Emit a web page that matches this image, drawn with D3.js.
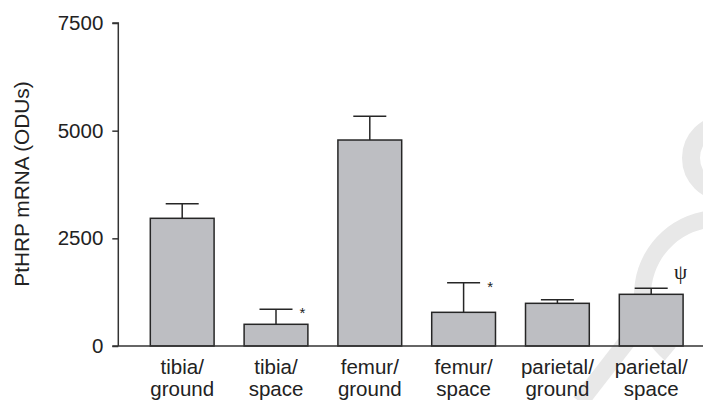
<!DOCTYPE html>
<html>
<head>
<meta charset="utf-8">
<script src="https://cdn.jsdelivr.net/npm/d3@7/dist/d3.min.js"></script>
<style>
  html, body { margin: 0; padding: 0; background: #fff; }
  svg { display: block; }
  text { font-family: "Liberation Sans", Arial, sans-serif; fill: #222; }
</style>
</head>
<body>
<svg id="chart" width="703" height="400"></svg>
<script>
// ---- data ----
const categoryLine1 = ["tibia/", "tibia/", "femur/", "femur/", "parietal/", "parietal/"];
const categoryLine2 = ["ground", "space", "ground", "space", "ground", "space"];
const means = [2965, 504, 4783, 782, 991, 1200];
const errors = [339, 348, 550, 688, 84, 140];
const markers = ["", "*", "", "*", "", "\u03C8"];
const yTicks = [0, 2500, 5000, 7500];
const yTitle = "PtHRP mRNA (ODUs)";

const svg = d3.select("#chart");
const W = 703, H = 400;
const axisX = 118.3, baseY = 346, topY = 23;
const FS = "20.5px";

// faint watermark behind the chart
const wm = svg.append("g").attr("fill", "none").attr("stroke", "#e8e8e8");
wm.append("circle").attr("cx", 725).attr("cy", 158).attr("r", 34).attr("stroke-width", 18);
wm.append("path")
  .attr("transform", "translate(719,295)")
  .attr("d", d3.arc()({innerRadius: 68, outerRadius: 85, startAngle: -2.45, endAngle: 0.3}))
  .attr("fill", "#e8e8e8").attr("stroke", "none");
wm.append("path").attr("d", "M642,322 L580,402").attr("stroke-width", 17);

const x = d3.scaleBand()
  .domain(d3.range(means.length))
  .range([135.3, 698.1])
  .paddingInner(0.32)
  .paddingOuter(0.16);

const y = d3.scaleLinear().domain([0, 7500]).range([baseY, topY]);

// bars
const g = svg.append("g");
g.selectAll("rect.bar")
  .data(means)
  .join("rect")
  .attr("class", "bar")
  .attr("x", (d, i) => x(i))
  .attr("y", d => y(d))
  .attr("width", x.bandwidth())
  .attr("height", d => y(0) - y(d))
  .attr("fill", "#bdbec2")
  .attr("stroke", "#262626")
  .attr("stroke-width", 1.5);

// error bars (upper only)
const capW = 33;
const eb = g.selectAll("g.err").data(means).join("g").attr("class", "err")
  .attr("stroke", "#262626").attr("stroke-width", 1.5);
eb.append("line")
  .attr("x1", (d, i) => x(i) + x.bandwidth() / 2)
  .attr("x2", (d, i) => x(i) + x.bandwidth() / 2)
  .attr("y1", d => y(d))
  .attr("y2", (d, i) => y(d + errors[i]));
eb.append("line")
  .attr("x1", (d, i) => x(i) + x.bandwidth() / 2 - capW / 2)
  .attr("x2", (d, i) => x(i) + x.bandwidth() / 2 + capW / 2)
  .attr("y1", (d, i) => y(d + errors[i]))
  .attr("y2", (d, i) => y(d + errors[i]));

// significance markers
g.selectAll("text.mark")
  .data(markers)
  .join("text")
  .attr("class", "mark")
  .attr("x", (d, i) => x(i) + x.bandwidth() / 2 + capW / 2 + (d === "*" ? 10 : 13))
  .attr("y", (d, i) => y(means[i] + errors[i]) + (d === "*" ? 9 : -9))
  .attr("text-anchor", "middle")
  .style("fill", "#222")
  .style("font-family", (d) => d === "*" ? "Liberation Sans, Arial, sans-serif" : "Liberation Serif, serif")
  .style("font-size", (d) => d === "*" ? "15px" : "21px")
  .text(d => d);

// y axis
const yAxis = d3.axisLeft(y).tickValues(yTicks).tickSize(6).tickPadding(9).tickFormat(d3.format("d"));
const ya = svg.append("g").attr("transform", `translate(${axisX},0)`).call(yAxis);
ya.select(".domain").attr("stroke", "#333").attr("stroke-width", 1.5).attr("d", `M-6,${topY}H0V${baseY}`);
ya.selectAll(".tick line").attr("stroke", "#333").attr("stroke-width", 1.5);
ya.selectAll(".tick text").style("font-size", FS).style("font-family", "Liberation Sans, Arial, sans-serif").attr("fill", "#222");

// x baseline
svg.append("line")
  .attr("x1", axisX - 6).attr("x2", W)
  .attr("y1", baseY).attr("y2", baseY)
  .attr("stroke", "#333").attr("stroke-width", 1.5);

// x labels
const xl = svg.append("g");
xl.selectAll("text.l1").data(categoryLine1).join("text").attr("class", "l1")
  .attr("x", (d, i) => x(i) + x.bandwidth() / 2)
  .attr("y", 374)
  .attr("text-anchor", "middle")
  .style("font-size", FS)
  .text(d => d);
xl.selectAll("text.l2").data(categoryLine2).join("text").attr("class", "l2")
  .attr("x", (d, i) => x(i) + x.bandwidth() / 2)
  .attr("y", 396)
  .attr("text-anchor", "middle")
  .style("font-size", FS)
  .text(d => d);

// y title
svg.append("text")
  .attr("transform", "translate(28.5,184) rotate(-90)")
  .attr("text-anchor", "middle")
  .style("font-size", "20.8px")
  .text(yTitle);
</script>
</body>
</html>
